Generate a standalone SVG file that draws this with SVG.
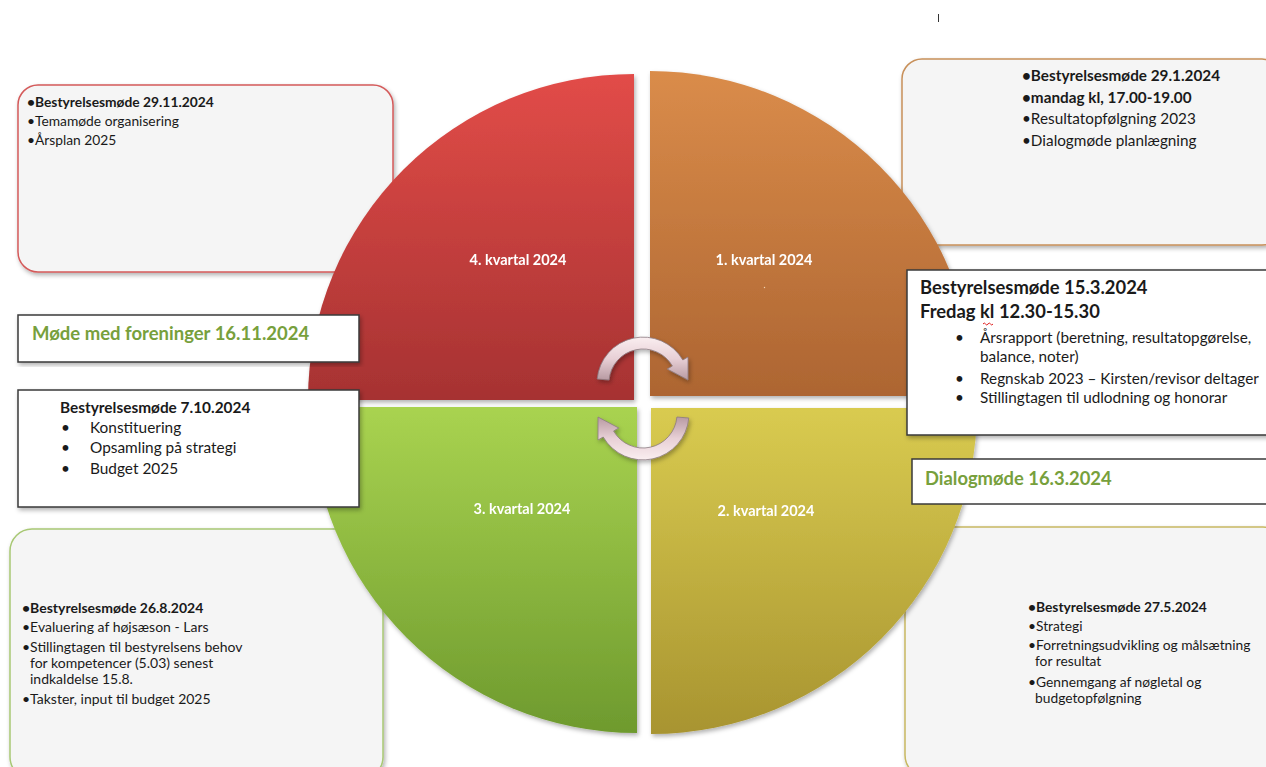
<svg xmlns="http://www.w3.org/2000/svg" width="1266" height="767" viewBox="0 0 1266 767">
<defs>
<style>
.t{font-family:Lato,"Liberation Sans",sans-serif;fill:#1a1a1a}
.b{font-weight:bold}
.q{font-family:Lato,"Liberation Sans",sans-serif;font-weight:bold;fill:#ffffff;font-size:14.5px}
.g{font-family:Lato,"Liberation Sans",sans-serif;font-weight:bold;fill:#77a03c}
.rbox{fill:#f5f5f5;stroke-width:1.5}
.sbox{fill:#ffffff;stroke:#3a3a3a;stroke-width:1.5}
.arr{fill:url(#ga);stroke:#8a7a80;stroke-width:0.8}
</style>
<filter id="sh" x="-10%" y="-10%" width="120%" height="120%">
<feDropShadow dx="1.5" dy="2.5" stdDeviation="2" flood-color="#000" flood-opacity="0.3"/>
</filter>
<linearGradient id="gr" x1="0" y1="0" x2="0" y2="1"><stop offset="0" stop-color="#e24c48"/><stop offset="1" stop-color="#a63232"/></linearGradient>
<linearGradient id="go" x1="0" y1="0" x2="0" y2="1"><stop offset="0" stop-color="#da8c4a"/><stop offset="1" stop-color="#ad6532"/></linearGradient>
<linearGradient id="gg" x1="0" y1="0" x2="0" y2="1"><stop offset="0" stop-color="#a9d350"/><stop offset="1" stop-color="#6e9a2e"/></linearGradient>
<linearGradient id="gy" x1="0" y1="0" x2="0" y2="1"><stop offset="0" stop-color="#d9cb50"/><stop offset="1" stop-color="#a89430"/></linearGradient>
<linearGradient id="ga" x1="0" y1="0" x2="0" y2="1"><stop offset="0" stop-color="#faeef0"/><stop offset="0.5" stop-color="#e8d0d6"/><stop offset="1" stop-color="#b89aa2"/></linearGradient>
</defs>

<rect width="1266" height="767" fill="#ffffff"/>
<line x1="938.5" y1="14" x2="938.5" y2="22" stroke="#333" stroke-width="1"/>

<!-- rounded boxes behind circle -->
<g id="box-q4">
<rect class="rbox" x="18" y="85" width="375" height="187" rx="20" stroke="#d45a5a" filter="url(#sh)"/>
<text class="t" font-size="13.8"><tspan class="b" x="27" y="107">•Bestyrelsesmøde 29.11.2024</tspan><tspan x="27" y="126">•Temamøde organisering</tspan><tspan x="27" y="145">•Årsplan 2025</tspan></text>
</g>
<g id="box-q1">
<rect class="rbox" x="902" y="59" width="380" height="186" rx="20" stroke="#c8905a" filter="url(#sh)"/>
<text class="t" font-size="15.3"><tspan class="b" x="1022" y="81">•Bestyrelsesmøde 29.1.2024</tspan><tspan class="b" x="1022" y="103">•mandag kl, 17.00-19.00</tspan><tspan x="1022" y="124">•Resultatopfølgning 2023</tspan><tspan x="1022" y="146">•Dialogmøde planlægning</tspan></text>
</g>
<g id="box-q3">
<rect class="rbox" x="10" y="529" width="373" height="250" rx="22" stroke="#a8c874" filter="url(#sh)"/>
<text class="t" font-size="14"><tspan class="b" x="22" y="613">•Bestyrelsesmøde 26.8.2024</tspan><tspan x="22" y="632">•Evaluering af højsæson - Lars</tspan><tspan x="22" y="652">•Stillingtagen til bestyrelsens behov</tspan><tspan x="30" y="668">for kompetencer (5.03) senest</tspan><tspan x="30" y="684">indkaldelse 15.8.</tspan><tspan x="22" y="704">•Takster, input til budget 2025</tspan></text>
</g>
<g id="box-q2">
<rect class="rbox" x="905" y="527" width="380" height="250" rx="22" stroke="#c8b862" filter="url(#sh)"/>
<text class="t" font-size="13.8"><tspan class="b" x="1028" y="612">•Bestyrelsesmøde 27.5.2024</tspan><tspan x="1028" y="631">•Strategi</tspan><tspan x="1028" y="650">•Forretningsudvikling og målsætning</tspan><tspan x="1035" y="666">for resultat</tspan><tspan x="1028" y="687">•Gennemgang af nøgletal og</tspan><tspan x="1035" y="703">budgetopfølgning</tspan></text>
</g>

<!-- circle quadrants -->
<g id="q4" filter="url(#sh)">
<path d="M634,400 L308,400 A326,326 0 0 1 634,74 Z" fill="url(#gr)"/>
<text class="q" x="518" y="265" text-anchor="middle">4. kvartal 2024</text>
</g>
<g id="q1" filter="url(#sh)">
<path d="M650,396 L650,71 A325,325 0 0 1 975,396 Z" fill="url(#go)"/>
<text class="q" x="764" y="265" text-anchor="middle">1. kvartal 2024</text>
<circle cx="764.5" cy="287.5" r="0.7" fill="#f0d0b0"/>
</g>
<g id="q3" filter="url(#sh)">
<path d="M637,407 L637,733 A326,326 0 0 1 311,407 Z" fill="url(#gg)"/>
<text class="q" x="522" y="514" text-anchor="middle">3. kvartal 2024</text>
</g>
<g id="q2" filter="url(#sh)">
<path d="M651,408 L977,408 A326,326 0 0 1 651,734 Z" fill="url(#gy)"/>
<text class="q" x="766" y="516" text-anchor="middle">2. kvartal 2024</text>
</g>

<!-- connectors: cycle arrows -->
<g id="connectors" filter="url(#sh)">
<path class="arr" transform="translate(643,383)" d="M-45.8,-4 A46,46 0 0 1 39.8,-23 L45,-26 L45,-3 L24.2,-14 L29.4,-17 A34,34 0 0 0 -33.9,-3 Z"/>
<path class="arr" transform="translate(643,414) rotate(180)" d="M-45.8,-4 A46,46 0 0 1 39.8,-23 L45,-26 L45,-3 L24.2,-14 L29.4,-17 A34,34 0 0 0 -33.9,-3 Z"/>
</g>

<!-- rectangular boxes on top -->
<g id="box-1503">
<rect class="sbox" x="907" y="270" width="370" height="165" filter="url(#sh)"/>
<text class="t b" font-size="18.4"><tspan x="920" y="294">Bestyrelsesmøde 15.3.2024</tspan><tspan x="920" y="318">Fredag kl 12.30-15.30</tspan></text>
<path d="M983,324 q1.25,-2 2.5,0 t2.5,0 t2.5,0 t2.5,0" fill="none" stroke="#e02020" stroke-width="1"/>
<text class="t" font-size="15.3"><tspan x="955" y="343">•</tspan><tspan x="980" y="343">Årsrapport (beretning, resultatopgørelse,</tspan><tspan x="980" y="362">balance, noter)</tspan><tspan x="955" y="384">•</tspan><tspan x="980" y="384">Regnskab 2023 – Kirsten/revisor deltager</tspan><tspan x="955" y="403">•</tspan><tspan x="980" y="403">Stillingtagen til udlodning og honorar</tspan></text>
</g>
<g id="box-dialog">
<rect class="sbox" x="912" y="459" width="370" height="45"/>
<text class="g" font-size="18.4" x="925" y="485">Dialogmøde 16.3.2024</text>
</g>
<g id="box-foreninger">
<rect class="sbox" x="18" y="315" width="341" height="47" filter="url(#sh)"/>
<text class="g" font-size="18.5" x="32" y="340">Møde med foreninger 16.11.2024</text>
</g>
<g id="box-0710">
<rect class="sbox" x="18" y="390" width="341" height="117" filter="url(#sh)"/>
<text class="t" font-size="15.4"><tspan class="b" x="60" y="413">Bestyrelsesmøde 7.10.2024</tspan><tspan x="61" y="433">•</tspan><tspan x="90" y="433">Konstituering</tspan><tspan x="61" y="453">•</tspan><tspan x="90" y="453">Opsamling på strategi</tspan><tspan x="61" y="474">•</tspan><tspan x="90" y="474">Budget 2025</tspan></text>
</g>
</svg>
